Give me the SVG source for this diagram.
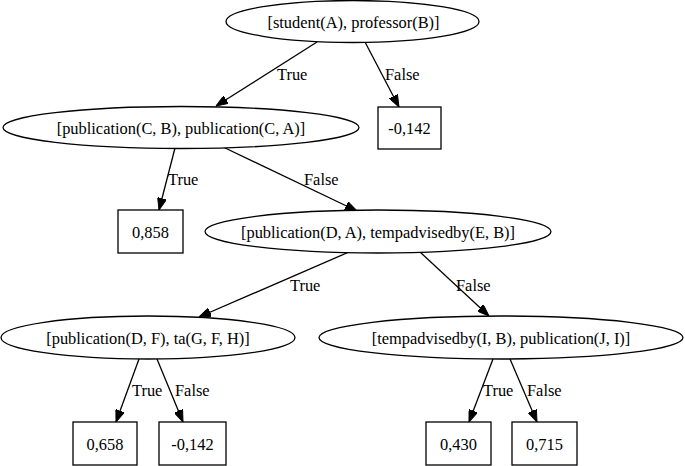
<svg xmlns="http://www.w3.org/2000/svg" width="685" height="466" viewBox="0 0 685 466">
<style>
.n{fill:#fff;stroke:#000;stroke-width:1.3}
.t{font-family:"Liberation Serif","Times New Roman",serif;font-size:16.4px;fill:#000}
.c{text-anchor:middle}
.e{stroke:#000;stroke-width:1.3;fill:none;marker-end:url(#a)}
</style>
<defs>
<marker id="a" viewBox="0 0 12 9" refX="12" refY="4.5" markerWidth="12" markerHeight="9" orient="auto" markerUnits="userSpaceOnUse">
<path d="M0,0 L12,4.5 L0,9 z" fill="#000" stroke="#000" stroke-width="1"/>
</marker>
</defs>
<rect width="685" height="466" fill="#fff"/>
<g id="edges">
<line class="e" x1="317" y1="42" x2="216" y2="106"/>
<line class="e" x1="365" y1="42" x2="399" y2="107"/>
<line class="e" x1="175" y1="148" x2="159" y2="210"/>
<line class="e" x1="223" y1="147" x2="357" y2="211"/>
<line class="e" x1="349" y1="252" x2="199" y2="317"/>
<line class="e" x1="420" y1="252" x2="489" y2="316"/>
<line class="e" x1="139" y1="359" x2="116" y2="422"/>
<line class="e" x1="157" y1="359" x2="183" y2="422"/>
<line class="e" x1="493" y1="359" x2="469" y2="422"/>
<line class="e" x1="510" y1="359" x2="537" y2="422"/>
<text class="t" x="277" y="80">True</text>
<text class="t" x="385" y="80">False</text>
<text class="t" x="168" y="185">True</text>
<text class="t" x="304" y="185">False</text>
<text class="t" x="290" y="291">True</text>
<text class="t" x="456" y="291">False</text>
<text class="t" x="132" y="396">True</text>
<text class="t" x="175" y="396">False</text>
<text class="t" x="483" y="396">True</text>
<text class="t" x="527" y="396">False</text>
</g>
<g id="n0"><ellipse class="n" cx="352.5" cy="21.5" rx="126.5" ry="21"/><text class="t c" x="353.5" y="27.5">[student(A), professor(B)]</text></g>
<g id="n1"><ellipse class="n" cx="181" cy="127.5" rx="178" ry="21"/><text class="t c" x="181" y="133.5">[publication(C, B), publication(C, A)]</text></g>
<g id="n2"><rect class="n" x="378" y="107" width="63" height="42"/><text class="t c" x="409.5" y="134">-0,142</text></g>
<g id="n3"><rect class="n" x="118" y="210" width="65" height="43"/><text class="t c" x="150.5" y="237.5">0,858</text></g>
<g id="n4"><ellipse class="n" cx="378" cy="231.5" rx="173" ry="21.5"/><text class="t c" x="378" y="237.5">[publication(D, A), tempadvisedby(E, B)]</text></g>
<g id="n5"><ellipse class="n" cx="148" cy="337.5" rx="147" ry="21.5"/><text class="t c" x="148" y="343.5">[publication(D, F), ta(G, F, H)]</text></g>
<g id="n6"><ellipse class="n" cx="501" cy="337.5" rx="182" ry="21.5"/><text class="t c" x="501" y="343.5">[tempadvisedby(I, B), publication(J, I)]</text></g>
<g id="n7"><rect class="n" x="73" y="422" width="64" height="43"/><text class="t c" x="105" y="449.5">0,658</text></g>
<g id="n8"><rect class="n" x="159" y="422" width="67" height="43"/><text class="t c" x="192.5" y="449.5">-0,142</text></g>
<g id="n9"><rect class="n" x="426" y="422" width="65" height="43"/><text class="t c" x="458.5" y="449.5">0,430</text></g>
<g id="n10"><rect class="n" x="512" y="422" width="65" height="43"/><text class="t c" x="544.5" y="449.5">0,715</text></g>
</svg>
